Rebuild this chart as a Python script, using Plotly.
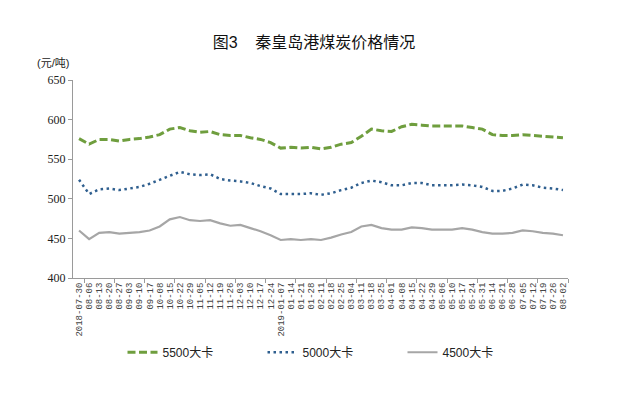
import plotly.graph_objects as go

dates = ["2018-07-30", "08-06", "08-13", "08-20", "08-27", "09-03", "09-10", "09-17",
         "10-08", "10-15", "10-22", "10-29", "11-05", "11-12", "11-19", "11-26",
         "12-03", "12-10", "12-17", "12-24", "2019-01-07", "01-14", "01-21", "01-28",
         "02-11", "02-18", "02-25", "03-04", "03-11", "03-18", "03-25", "04-01",
         "04-08", "04-15", "04-22", "04-29", "05-06", "05-10", "05-17", "05-24",
         "05-31", "06-14", "06-21", "06-28", "07-05", "07-12", "07-19", "07-26", "08-02"]

p5500 = [576, 569, 575, 575, 573, 575, 576, 578, 581, 588, 590, 586, 584, 585, 581, 580,
         580, 577, 575, 571, 564, 565, 564, 565, 563, 565, 569, 571, 579, 588, 586, 585,
         591, 594, 593, 592, 592, 592, 592, 590, 588, 581, 580, 580, 581, 580, 579, 578, 577]

p5000 = [524, 506, 512, 513, 511, 513, 515, 519, 524, 530, 534, 531, 530, 531, 525, 523,
         522, 520, 516, 513, 506, 506, 506, 507, 505, 507, 511, 514, 520, 523, 521, 517,
         517, 520, 520, 517, 517, 517, 518, 517, 515, 510, 510, 513, 518, 517, 514, 513, 511]

p4500 = [460, 449, 457, 458, 456, 457, 458, 460, 465, 474, 477, 473, 472, 473, 469, 466,
         467, 463, 459, 454, 448, 449, 448, 449, 448, 451, 455, 458, 465, 467, 463, 461,
         461, 464, 463, 461, 461, 461, 463, 461, 458, 456, 456, 457, 460, 459, 457, 456, 454]

series_names = ["5500大卡", "5000大卡", "4500大卡"]

idx = list(range(len(dates)))
boundaries = [i + 0.5 for i in range(0, len(dates), 3)]

fig = go.Figure()
fig.add_trace(go.Scatter(x=idx, y=p5500, name=series_names[0], mode="lines",
                         line=dict(color="#6f9e3e", width=3, dash="8px,3.5px")))
fig.add_trace(go.Scatter(x=idx, y=p5000, name=series_names[1], mode="lines",
                         line=dict(color="#2f5f8f", width=2.5, dash="2.5px,3.5px")))
fig.add_trace(go.Scatter(x=idx, y=p4500, name=series_names[2], mode="lines",
                         line=dict(color="#a6a6a6", width=2.2)))

axis_color = "#9a9a9a"
serif = "Liberation Serif, DejaVu Serif, serif"
fig.update_layout(
    width=625, height=393,
    margin=dict(l=65, r=65, t=72, b=123),
    paper_bgcolor="white", plot_bgcolor="white",
    font=dict(family="Liberation Sans, Noto Sans CJK SC", color="#333333"),
    title=dict(text="图3&nbsp;&nbsp;&nbsp;&nbsp;秦皇岛港煤炭价格情况", x=306 / 625, xanchor="center",
               y=1 - 34 / 393, yanchor="middle", yref="container", xref="container",
               font=dict(family="Liberation Sans, Noto Sans CJK SC", size=16, color="#111111")),
    xaxis=dict(range=[-0.6, 48.5], tickmode="array", tickvals=idx, ticktext=dates,
               tickangle=-90, ticks="", showline=True, linecolor=axis_color, linewidth=1,
               showgrid=False, zeroline=False,
               tickfont=dict(family="Liberation Mono, DejaVu Sans Mono", size=9, color="#444444"),
               minor=dict(tickmode="array", tickvals=boundaries, ticks="outside", ticklen=4,
                          tickcolor=axis_color, showgrid=False)),
    yaxis=dict(range=[400, 650], dtick=50, tick0=400, ticks="outside", ticklen=4,
               tickcolor=axis_color, showline=True, linecolor=axis_color, linewidth=1,
               showgrid=False, zeroline=False,
               tickfont=dict(family=serif, size=12, color="#222222")),
    legend=dict(orientation="h", x=0.1, xanchor="left", y=-0.375, yanchor="middle",
                entrywidth=95, font=dict(family="Liberation Sans Narrow, Liberation Sans, Noto Sans CJK SC", size=12, color="#222222"),
                bgcolor="rgba(0,0,0,0)"),
    showlegend=True,
)

fig.add_annotation(text="(元/吨)", xref="paper", yref="paper", x=-0.04, y=1 + (80 - 63) / 198,
                   xanchor="center", yanchor="middle", showarrow=False,
                   font=dict(family="Liberation Sans Narrow, Liberation Sans, Noto Sans CJK SC", size=11, color="#222222"))

fig.write_html("out.html")
